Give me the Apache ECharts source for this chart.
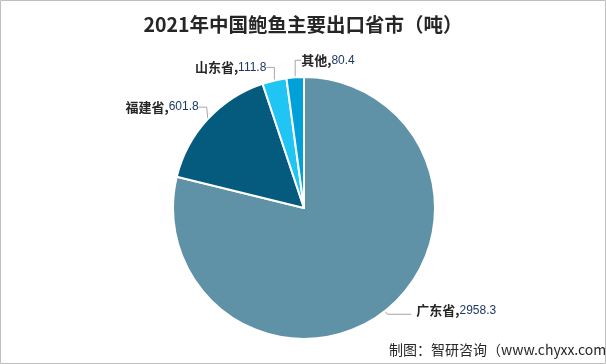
<!DOCTYPE html>
<html><head><meta charset="utf-8">
<script src="https://cdn.jsdelivr.net/npm/echarts@6/dist/echarts.min.js"></script>
<style>html,body{margin:0;padding:0;background:#fff}#c{width:606px;height:364px}</style>
</head><body><div id="c"></div>
<script>
const categories = ['广东省','福建省','山东省','其他'];
const values = [2958.3, 601.8, 111.8, 80.4];
const colors = ['#5F92A7','#045B7E','#21C5F4','#00A1D9'];
const titleText = '2021年中国鲍鱼主要出口省市（吨）';
const footText = '制图：智研咨询（www.chyxx.com）';
const lineLens = [[4,24],[10,8],[12,8],[12,8]];

const chart = echarts.init(document.getElementById('c'));
chart.setOption({
  backgroundColor:'#fff',
  animation:false,
  title:{text:titleText,left:'center',top:10,textStyle:{fontFamily:'Noto Sans CJK SC',fontSize:19.5,fontWeight:'bold',color:'#262626'}},
  graphic:[
    {type:'rect',shape:{x:0.5,y:0.5,width:605,height:363},style:{fill:'none',stroke:'#bfbfbf',lineWidth:1},silent:true},
    {type:'text',left:389,top:343,style:{text:footText,font:'14px "Noto Sans CJK SC"',fill:'#262626'}}
  ],
  series:[{
    type:'pie',
    center:[304,208],
    radius:[0,131],
    startAngle:90,
    clockwise:true,
    itemStyle:{borderColor:'#fff',borderWidth:2},
    label:{
      formatter: p => '{n|'+p.name+'}{n|,}{v|'+p.value+'}',
      rich:{
        n:{fontFamily:'Noto Sans CJK SC',fontSize:13,fontWeight:'bold',color:'#262626'},
        v:{fontFamily:'Liberation Sans Narrow, Liberation Sans',fontSize:12,color:'#1F3864'}
      }
    },
    labelLine:{lineStyle:{color:'#a6a6a6',width:1}},
    labelLayout: function(params){
      const pts = params.labelLinePoints;
      if(!pts) return;
      const p0 = pts[0];
      if(params.dataIndex===0) return {dy:-4};
      if(params.dataIndex===1) return {x:p0[0]-9, y:p0[1]-12, align:'right', verticalAlign:'middle'};
      if(params.dataIndex===2) return {x:p0[0]-8, y:p0[1]-13, align:'right', verticalAlign:'middle'};
      if(params.dataIndex===3) return {x:p0[0]+6, y:p0[1]-17, align:'left', verticalAlign:'middle'};
    },
    data: categories.map((c,i)=>({name:c,value:values[i],itemStyle:{color:colors[i]},
      labelLine:{length:lineLens[i][0],length2:lineLens[i][1]}}))
  }]
});
</script></body></html>
